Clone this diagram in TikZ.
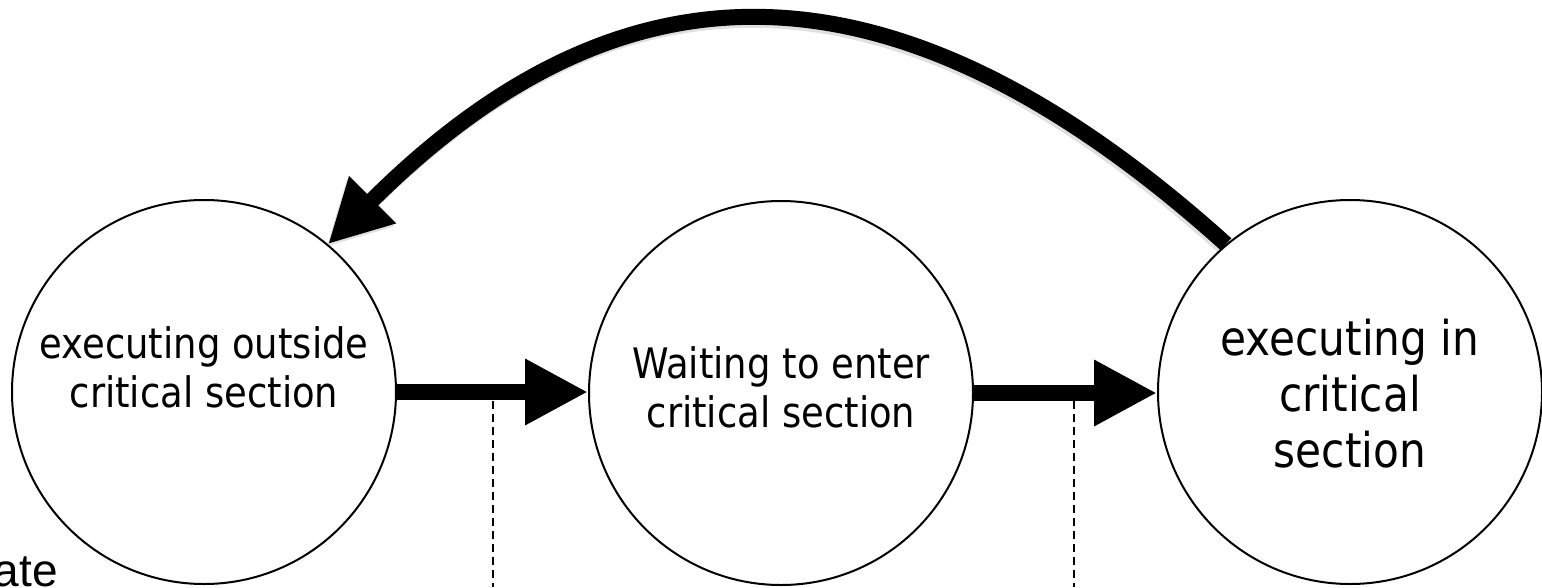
\documentclass[tikz,border=0pt]{standalone}
\usepackage{fontspec}
\usetikzlibrary{arrows.meta}
\newfontfamily\statefont[FakeStretch=0.88]{DejaVu Sans}
\newfontfamily\notefont{Liberation Sans}
\begin{document}
\begin{tikzpicture}[x=1pt,y=-1pt,
  state/.style={circle,draw,line width=2pt,minimum size=384pt,inner sep=0pt},
  statetext/.style={align=center,inner sep=0pt,font=\statefont\fontsize{42}{49}\selectfont},
  flow/.style={line width=16pt,-{Triangle[length=63pt,width=62pt]}},
  guide/.style={line width=1.3pt,dash pattern=on 8pt off 5pt},
  shade/.style={flow,draw=black,opacity=0.12}
]
\useasboundingbox (0,0) rectangle (1542,587);
\clip (0,0) rectangle (1542,587);

% the three states
\node[state] (out)  at (204,392) {};
\node[state] (wait) at (781,393) {};
\node[state] (in)   at (1350,392) {};

\node[statetext] (outtext)  at (204,367.5) {executing outside\\critical section};
\node[statetext] (waittext) at (781,387) {Waiting to enter\\critical section};
\node[statetext,font=\statefont\fontsize{48}{56}\selectfont] (intext) at (1350,394)
  {executing in\\critical\\section};

% forward transitions
\draw[flow] (out.east) -- (out.east -| wait.west);
\draw[flow] (wait.east) -- (wait.east -| in.west);

% dashed markers below the transitions
\coordinate (m1top) at (493,401);
\coordinate (m1bot) at (493,587);
\coordinate (m2top) at (1074,401);
\coordinate (m2bot) at (1074,587);
\draw[guide] (m1top) -- (m1bot);
\draw[guide] (m2top) -- (m2bot);

% return transition with a soft shadow
\begin{scope}[transform canvas={shift={(-2,3)}}]
  \draw[shade] (in.130) .. controls (877,-70) and (607,-34) .. (out.50);
\end{scope}
\draw[flow] (in.130) .. controls (877,-70) and (607,-34) .. (out.50);

% clipped caption at the lower left
\node[font=\notefont\fontsize{46}{55}\selectfont,anchor=base east,inner sep=0pt] (note) at (58,586) {ate};
\end{tikzpicture}
\end{document}
